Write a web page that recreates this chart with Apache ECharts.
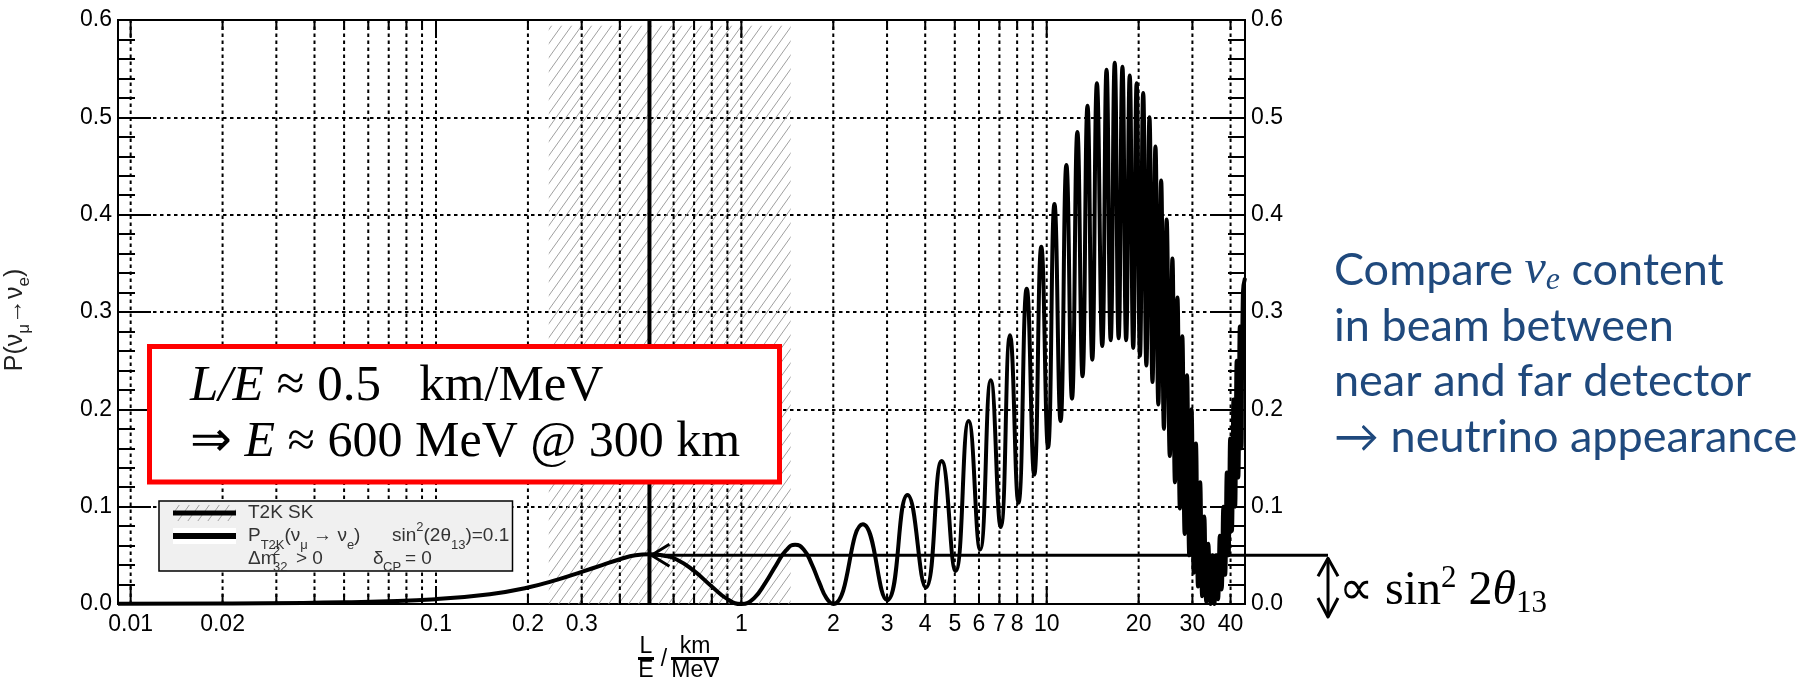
<!DOCTYPE html>
<html>
<head>
<meta charset="utf-8">
<script src="https://cdn.jsdelivr.net/npm/echarts@6/dist/echarts.min.js"></script>
<style>
html,body{margin:0;padding:0;background:#ffffff;}
#chart{width:1807px;height:678px;}
</style>
</head>
<body>
<div id="chart"></div>
<script>
// ---------------- data ----------------
const xAxisRange = [0.00909, 44.6];
const yAxisRange = [0, 0.6];
const yTickStep = 0.1;
const xGridValues = [0.01,0.02,0.03,0.04,0.05,0.06,0.07,0.08,0.09,
                     0.1,0.2,0.3,0.4,0.5,0.6,0.7,0.8,0.9,
                     1,2,3,4,5,6,7,8,9,10,20,30,40];
const xMajorValues = [0.01, 0.1, 1, 10];
const xLabelValues = [0.01, 0.02, 0.1, 0.2, 0.3, 1, 2, 3, 4, 5, 6, 7, 8, 10, 20, 30, 40];
const xLabelTexts  = ['0.01','0.02','0.1','0.2','0.3','1','2','3','4','5','6','7','8','10','20','30','40'];

// L/E in km/MeV
const curveLE = [0.00909,0.02,0.05,0.1,0.15,0.2,0.25,0.3,0.35,0.4,0.45,0.5,0.55,0.62,0.7,0.8,0.9,1.0,
  1.1,1.2,1.3,1.4,1.5,1.6,1.7,1.8,1.9,2.0,2.5,3.0,3.5,4.02,4.53,5.03,5.55,6.05,6.56,7.07,7.58,8.08,
  8.6,9.1,9.6,10.1,10.6,11.1,11.6,12.1,12.6,13.1,13.6,14.1,14.6,15.2,15.7,16.2,16.7,17.2,17.7,18.2,
  18.7,19.2,19.7,20.2,20.7,21.2,21.7,22.2,22.7,23.2,23.7,24.2,24.7,25.3,25.8,26.3,26.8,27.3,27.8,28.3,
  28.8,29.3,29.8,30.3,30.8,31.3,31.8,32.3,32.8,33.3,33.8,34.4,34.9,35.4,35.9,36.4,36.9,37.4,37.9,38.4,
  38.9,39.4,39.9,40.4,40.9,41.4,41.9,42.4,42.9,43.4,43.9,44.6];
// P(nu_mu -> nu_e)
const curveP = [0.0002,0.0006,0.0018,0.005,0.010,0.017,0.025,0.033,0.040,0.046,0.050,0.051,0.050,0.045,0.034,0.018,0.005,0.0,
  0.006,0.022,0.040,0.055,0.061,0.056,0.041,0.022,0.006,0.0,0.082,0.004,0.112,0.017,0.147,0.034,0.188,0.056,0.230,0.079,0.276,0.104,
  0.324,0.133,0.367,0.161,0.411,0.188,0.451,0.211,0.485,0.234,0.512,0.251,0.535,0.265,0.549,0.271,0.556,0.273,0.552,0.271,
  0.543,0.263,0.535,0.255,0.525,0.245,0.500,0.228,0.470,0.205,0.435,0.180,0.395,0.152,0.355,0.125,0.315,0.098,0.275,0.072,
  0.235,0.050,0.200,0.032,0.165,0.018,0.125,0.008,0.090,0.002,0.062,0.0,0.050,0.0,0.050,0.005,0.070,0.015,0.100,0.030,
  0.135,0.050,0.170,0.075,0.210,0.100,0.250,0.130,0.285,0.160,0.320,0.335];

const t2kBand = [0.234, 1.45];   // hatched T2K SK region (L/E)
const hatchTopP = 0.594;
const t2kLE = 0.5;               // thick vertical line
const theta13Level = 0.05;       // horizontal arrow level

// ---------------- helpers ----------------
function makeHatch() {
  const w = 10, h = 14;
  const c = document.createElement('canvas');
  c.width = w; c.height = h;
  const g = c.getContext('2d');
  g.strokeStyle = '#a0a0a0';
  g.lineWidth = 1;
  g.beginPath();
  for (let k = -1; k <= 1; k++) {
    g.moveTo(k * w, h);
    g.lineTo(k * w + w, 0);
  }
  g.stroke();
  return {image: c, repeat: 'repeat'};
}
const hatchPattern = makeHatch();

const curveData = curveLE.map((x, i) => [x, curveP[i]]);
const tickFont = 23;

function renderHatch(params, api) {
  const a = api.coord([api.value(0), yAxisRange[0]]);
  const b = api.coord([api.value(1), hatchTopP]);
  return {type: 'rect', shape: {x: a[0], y: b[1], width: b[0] - a[0], height: a[1] - b[1]},
          style: {fill: hatchPattern}};
}

function renderXDecor(params, api) {
  const v = api.value(0);
  const pb = api.coord([v, yAxisRange[0]]);
  const pt = api.coord([v, yAxisRange[1]]);
  const major = xMajorValues.indexOf(v) >= 0;
  const tl = major ? 18 : 10;
  const children = [
    {type: 'line', shape: {x1: pb[0], y1: pb[1], x2: pt[0], y2: pt[1]},
     style: {stroke: '#000', lineWidth: 2, lineDash: [3.5, 3.5]}},
    {type: 'line', shape: {x1: pt[0], y1: pt[1], x2: pt[0], y2: pt[1] + tl},
     style: {stroke: '#000', lineWidth: 2}},
    {type: 'line', shape: {x1: pb[0], y1: pb[1], x2: pb[0], y2: pb[1] - tl},
     style: {stroke: '#000', lineWidth: 2}}
  ];
  const li = xLabelValues.indexOf(v);
  if (li >= 0) {
    children.push({type: 'text', x: pb[0], y: pb[1] + 9,
      style: {text: xLabelTexts[li], align: 'center', verticalAlign: 'top',
              fontSize: tickFont, fontFamily: 'Liberation Sans', fill: '#000'}});
  }
  return {type: 'group', children: children};
}

function renderMarker(params, api) {
  const cs = params.coordSys;
  const le = api.value(0), lvl = api.value(1);
  const top = api.coord([le, yAxisRange[1]]);
  const bot = api.coord([le, yAxisRange[0]]);
  const tip = api.coord([le, lvl]);
  const xr = cs.x + cs.width + 83;
  const yb = bot[1] + 13;
  const S = {stroke: '#000', lineWidth: 3, fill: 'none', lineJoin: 'round'};
  return {type: 'group', children: [
    {type: 'line', shape: {x1: top[0], y1: top[1], x2: bot[0], y2: bot[1]}, style: {stroke: '#000', lineWidth: 4}},
    {type: 'line', shape: {x1: tip[0] + 2, y1: tip[1], x2: xr, y2: tip[1]}, style: S},
    {type: 'polyline', shape: {points: [[tip[0] + 20, tip[1] - 11], [tip[0] + 2, tip[1]], [tip[0] + 20, tip[1] + 11]]}, style: S},
    {type: 'line', shape: {x1: xr, y1: tip[1] + 3, x2: xr, y2: yb}, style: S},
    {type: 'polyline', shape: {points: [[xr - 10, tip[1] + 21], [xr, tip[1] + 3], [xr + 10, tip[1] + 21]]}, style: S},
    {type: 'polyline', shape: {points: [[xr - 10, yb - 19], [xr, yb], [xr + 10, yb - 19]]}, style: S}
  ]};
}

const yAxisCommon = {
  type: 'value', min: yAxisRange[0], max: yAxisRange[1], interval: yTickStep,
  axisLine: {show: true, lineStyle: {color: '#000', width: 2}},
  axisTick: {show: true, inside: true, length: 33, lineStyle: {color: '#000', width: 2}},
  minorTick: {show: true, splitNumber: 5, length: 17, lineStyle: {color: '#000', width: 2}},
  minorSplitLine: {show: false},
  axisLabel: {show: true, margin: 6, fontSize: tickFont, fontFamily: 'Liberation Sans', color: '#000',
              formatter: v => v.toFixed(1)}
};

const blue = '#1F497D';
const serif = 'Liberation Serif';
const sans = 'Liberation Sans';
const rf = 45;   // right-hand text size

const graphics = [
  // y axis title
  {type: 'text', x: 15, y: 320, rotation: Math.PI / 2, z: 30,
   style: {text: 'P(ν{s|μ}→ν{s|e})',
     rich: {s: {fontSize: 17, fontFamily: sans, verticalAlign: 'bottom', lineHeight: 17, fill: '#222'}},
     fontSize: 25, fontFamily: sans, lineHeight: 36, fill: '#222', align: 'center', verticalAlign: 'middle'}},
  // x axis title (stacked fractions)
  {type: 'text', x: 646, y: 647, z: 30, style: {text: 'L', fontSize: 23, fontFamily: sans, fill: '#000', align: 'center', verticalAlign: 'middle'}},
  {type: 'line', z: 30, shape: {x1: 638, y1: 658.5, x2: 654, y2: 658.5}, style: {stroke: '#000', lineWidth: 3}},
  {type: 'text', x: 646, y: 671, z: 30, style: {text: 'E', fontSize: 23, fontFamily: sans, fill: '#000', align: 'center', verticalAlign: 'middle'}},
  {type: 'text', x: 664, y: 660, z: 30, style: {text: '/', fontSize: 23, fontFamily: sans, fill: '#000', align: 'center', verticalAlign: 'middle'}},
  {type: 'text', x: 695, y: 647, z: 30, style: {text: 'km', fontSize: 23, fontFamily: sans, fill: '#000', align: 'center', verticalAlign: 'middle'}},
  {type: 'line', z: 30, shape: {x1: 671, y1: 658.5, x2: 719, y2: 658.5}, style: {stroke: '#000', lineWidth: 3}},
  {type: 'text', x: 695, y: 671, z: 30, style: {text: 'MeV', fontSize: 23, fontFamily: sans, fill: '#000', align: 'center', verticalAlign: 'middle'}},

  // red box
  {type: 'rect', z: 40, shape: {x: 149.5, y: 346.5, width: 630, height: 135.5},
   style: {fill: '#ffffff', stroke: '#ff0000', lineWidth: 5}},
  {type: 'text', x: 190, y: 387, z: 41,
   style: {text: '{i|L/E} ≈ 0.5   km/MeV', rich: {i: {fontStyle: 'italic', fontFamily: serif, fontSize: 51, fill: '#000'}},
     fontFamily: serif, fontSize: 51, fill: '#000', verticalAlign: 'middle'}},
  {type: 'text', x: 190, y: 443, z: 41,
   style: {text: '⇒ {i|E} ≈ 600 MeV @ 300 km', rich: {i: {fontStyle: 'italic', fontFamily: serif, fontSize: 50, fill: '#000'}},
     fontFamily: serif, fontSize: 50, fill: '#000', verticalAlign: 'middle'}},

  // legend box
  {type: 'rect', z: 40, shape: {x: 159, y: 501, width: 353.5, height: 70},
   style: {fill: '#f0f0f0', stroke: '#000', lineWidth: 1.5}},
  {type: 'rect', z: 41, shape: {x: 173, y: 505, width: 63, height: 16}, style: {fill: hatchPattern}},
  {type: 'line', z: 42, shape: {x1: 173, y1: 513, x2: 236, y2: 513}, style: {stroke: '#000', lineWidth: 5}},
  {type: 'rect', z: 41, shape: {x: 173, y: 528, width: 63, height: 16}, style: {fill: '#ffffff'}},
  {type: 'line', z: 42, shape: {x1: 173, y1: 536, x2: 236, y2: 536}, style: {stroke: '#000', lineWidth: 6}},
  {type: 'text', x: 248, y: 513, z: 42, style: {text: 'T2K SK', fontSize: 19, fontFamily: sans, fill: '#333', verticalAlign: 'middle'}},
  {type: 'text', x: 248, y: 536, z: 42,
   style: {text: 'P{s|T2K}(ν{s|μ} → ν{s|e})',
     rich: {s: {fontSize: 13, fontFamily: sans, fill: '#333', verticalAlign: 'bottom', lineHeight: 13}},
     fontSize: 19, fontFamily: sans, lineHeight: 31, fill: '#333', verticalAlign: 'middle'}},
  {type: 'text', x: 392, y: 536, z: 42,
   style: {text: 'sin{p|2}(2θ{s|13})=0.1',
     rich: {s: {fontSize: 13, fontFamily: sans, fill: '#333', verticalAlign: 'bottom', lineHeight: 13},
            p: {fontSize: 13, fontFamily: sans, fill: '#333', verticalAlign: 'top', lineHeight: 13}},
     fontSize: 19, fontFamily: sans, lineHeight: 31, fill: '#333', verticalAlign: 'middle'}},
  {type: 'text', x: 248, y: 559, z: 42, style: {text: 'Δm', fontSize: 19, fontFamily: sans, fill: '#333', verticalAlign: 'middle'}},
  {type: 'text', x: 273, y: 551, z: 42, style: {text: '2', fontSize: 13, fontFamily: sans, fill: '#333', verticalAlign: 'middle'}},
  {type: 'text', x: 273, y: 567, z: 42, style: {text: '32', fontSize: 13, fontFamily: sans, fill: '#333', verticalAlign: 'middle'}},
  {type: 'text', x: 296, y: 559, z: 42, style: {text: '> 0', fontSize: 19, fontFamily: sans, fill: '#333', verticalAlign: 'middle'}},
  {type: 'text', x: 373, y: 559, z: 42, style: {text: 'δ', fontSize: 19, fontFamily: sans, fill: '#333', verticalAlign: 'middle'}},
  {type: 'text', x: 383, y: 567, z: 42, style: {text: 'CP', fontSize: 13, fontFamily: sans, fill: '#333', verticalAlign: 'middle'}},
  {type: 'text', x: 405, y: 559, z: 42, style: {text: '= 0', fontSize: 19, fontFamily: sans, fill: '#333', verticalAlign: 'middle'}},

  // right-hand explanation
  {type: 'text', x: 1334, y: 270, z: 30,
   style: {text: 'Compare {nu|ν}{e|e} content',
     rich: {nu: {fontFamily: serif, fontStyle: 'italic', fontSize: rf + 3, fill: blue, lineHeight: 54},
            e: {fontFamily: serif, fontStyle: 'italic', fontSize: 32, fill: blue, verticalAlign: 'bottom', lineHeight: 32}},
     fontFamily: 'Lato', fontSize: rf, lineHeight: 54, fill: blue, verticalAlign: 'middle'}},
  {type: 'text', x: 1334, y: 326, z: 30, style: {text: 'in beam between', fontFamily: 'Lato', fontSize: rf, fill: blue, verticalAlign: 'middle'}},
  {type: 'text', x: 1334, y: 381, z: 30, style: {text: 'near and far detector', fontFamily: 'Lato', fontSize: rf, fill: blue, verticalAlign: 'middle'}},
  {type: 'text', x: 1334, y: 437, z: 30, style: {text: '→ neutrino appearance', fontFamily: 'Lato', fontSize: rf, fill: blue, verticalAlign: 'middle'}},

  // proportional-to label
  {type: 'text', x: 1339, y: 591, z: 30,
   style: {text: '∝ sin{p|2} 2{t|θ}{s|13}',
     rich: {p: {fontFamily: serif, fontSize: 31, verticalAlign: 'top', lineHeight: 32, fill: '#000'},
            t: {fontFamily: serif, fontStyle: 'italic', fontSize: 48, lineHeight: 56, fill: '#000'},
            s: {fontFamily: serif, fontSize: 31, verticalAlign: 'bottom', lineHeight: 26, fill: '#000'}},
     fontFamily: serif, fontSize: 48, lineHeight: 56, fill: '#000', verticalAlign: 'middle'}}
];

const option = {
  animation: false,
  backgroundColor: '#ffffff',
  textStyle: {fontFamily: sans},
  grid: {left: 118, right: 562, top: 20, bottom: 74, show: true, borderColor: '#000', borderWidth: 2,
         backgroundColor: 'transparent', containLabel: false, outerBoundsMode: 'none'},
  xAxis: [{type: 'log', logBase: 10, min: xAxisRange[0], max: xAxisRange[1],
           axisLine: {show: true, lineStyle: {color: '#000', width: 2}},
           axisTick: {show: false}, axisLabel: {show: false}, splitLine: {show: false}, minorTick: {show: false}}],
  yAxis: [
    Object.assign({}, yAxisCommon, {position: 'left',
      splitLine: {show: true, lineStyle: {color: '#000', width: 2, type: [3.5, 3.5]}}}),
    Object.assign({}, yAxisCommon, {position: 'right', splitLine: {show: false}})
  ],
  series: [
    {type: 'custom', name: 'T2K SK', coordinateSystem: 'cartesian2d', silent: true, z: 1,
     data: [[t2kBand[0], t2kBand[1]]], renderItem: renderHatch, clip: false},
    {type: 'custom', name: 'grid', coordinateSystem: 'cartesian2d', silent: true, z: 2,
     data: xGridValues.map(v => [v, 0]), renderItem: renderXDecor, clip: false},
    {type: 'line', name: 'P', data: curveData, smooth: 0.5, symbol: 'none', silent: true, z: 3,
     lineStyle: {color: '#000', width: 4, join: 'round'}, clip: true},
    {type: 'custom', name: 'marker', coordinateSystem: 'cartesian2d', silent: true, z: 4,
     data: [[t2kLE, theta13Level]], renderItem: renderMarker, clip: false}
  ],
  graphic: graphics
};

const chart = echarts.init(document.getElementById('chart'), null, {renderer: 'canvas', width: 1807, height: 678});
chart.setOption(option);
</script>
</body>
</html>
